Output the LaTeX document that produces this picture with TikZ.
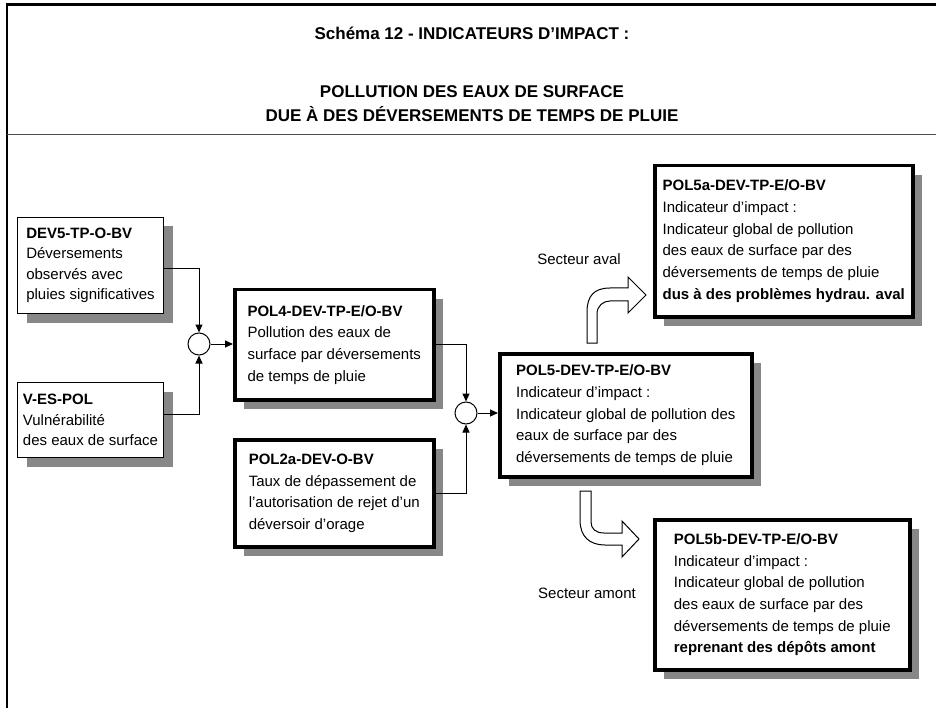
\documentclass[tikz,border=0pt]{standalone}
\usepackage{fontspec}
\setmainfont{Liberation Sans}
\usetikzlibrary{calc, positioning}
\usetikzlibrary{arrows.meta}
\usetikzlibrary{shadows}

\tikzset{
  fiche/.style={draw, line width=1pt, fill=white, align=left, inner xsep=5pt, inner ysep=0pt,
    anchor=north west, font=\fontsize{15}{20.5}\selectfont,
    drop shadow={shadow xshift=9pt, shadow yshift=-9pt, fill=black!47, opacity=1}},
  fichegras/.style={fiche, line width=3.5pt, font=\fontsize{15}{21.7}\selectfont},
  jonction/.style={circle, draw, line width=1pt, fill=white, minimum size=22pt, inner sep=0pt},
  lien/.style={line width=1pt, -{Triangle[length=8pt, width=7pt]}},
  fleche/.style={draw, line width=1pt, fill=white, line join=miter},
  titre/.style={anchor=base, font=\fontsize{17}{23}\selectfont\bfseries},
  secteur/.style={font=\fontsize{15}{18}\selectfont}
}

\begin{document}
\begin{tikzpicture}[x=1pt, y=-1pt]
\useasboundingbox (0,0) rectangle (936,708);
\draw[line width=2.5pt] (7,712) -- (7,4.5) -- (940,4.5);
\draw[line width=1pt, black!70] (7,135) -- (940,135);

\node[titre] (t1) at (472,40) {Schéma 12 - INDICATEURS D’IMPACT :};
\node[titre] (t2) at (472,98) {POLLUTION DES EAUX DE SURFACE};
\node[titre] (t3) at (472,122) {DUE À DES DÉVERSEMENTS DE TEMPS DE PLUIE};

\node[fiche, minimum width=146pt, minimum height=96pt] (dev5) at (17,217)
  {\textbf{DEV5-TP-O-BV}\\Déversements\\observés avec\\pluies significatives};
\node[fiche, minimum width=146pt, minimum height=75pt] (ves) at (17,382)
  {\textbf{V-ES-POL}\\Vulnérabilité\\des eaux de surface};
\node[fichegras, minimum width=199pt, minimum height=110pt] (pol4) at (233,288)
  {\textbf{POL4-DEV-TP-E/O-BV}\\Pollution des eaux de\\surface par déversements\\de temps de pluie};
\node[fichegras, minimum width=199pt, minimum height=107pt] (pol2a) at (233,438)
  {\textbf{POL2a-DEV-O-BV}\\Taux de dépassement de\\l’autorisation de rejet d’un\\déversoir d’orage};
\node[fichegras, minimum width=252pt, minimum height=123pt] (pol5) at (498,352)
  {\textbf{POL5-DEV-TP-E/O-BV}\\Indicateur d’impact :\\Indicateur global de pollution des\\eaux de surface par des\\déversements de temps de pluie};
\node[fichegras, minimum width=258pt, minimum height=151pt] (pol5a) at (653,164)
  {\textbf{POL5a-DEV-TP-E/O-BV}\\Indicateur d’impact :\\Indicateur global de pollution\\des eaux de surface par des\\déversements de temps de pluie\\\textbf{dus à des problèmes hydrau. aval}};
\node[fichegras, minimum width=255pt, minimum height=150pt] (pol5b) at (653,518)
  {\textbf{POL5b-DEV-TP-E/O-BV}\\Indicateur d’impact :\\Indicateur global de pollution\\des eaux de surface par des\\déversements de temps de pluie\\\textbf{reprenant des dépôts amont}};

\node[jonction] (j1) at (199,344) {};
\node[jonction] (j2) at (466,413) {};

\draw[lien] ([yshift=-3pt]dev5.east) -| (j1.north);
\draw[lien] ([yshift=6pt]ves.east) -| (j1.south);
\draw[lien] (j1.east) -- (j1.east -| pol4.west);
\draw[lien] (pol4.east) -| (j2.north);
\draw[lien] (pol2a.east) -| (j2.south);
\draw[lien] (j2.east) -- (j2.east -| pol5.west);

\draw[fleche] (587,343) -- (587,312) .. controls (587,296) and (594,288) .. (610,288)
  -- (628,288) -- (628,277) -- (646,295) -- (628,313) -- (628,301) -- (610,301)
  .. controls (603,301) and (597,306) .. (597,314) -- (597,343) -- cycle;
\draw[fleche] (580,491) -- (580,520) .. controls (580,537) and (590,545) .. (605,545)
  -- (622,545) -- (622,557) -- (639,539) -- (622,521) -- (622,533) -- (604,533)
  .. controls (596,533) and (591,529) .. (591,522) -- (591,491) -- cycle;

\node[secteur] (aval) at (579,259) {Secteur aval};
\node[secteur] (amont) at (587,593) {Secteur amont};
\end{tikzpicture}
\end{document}
